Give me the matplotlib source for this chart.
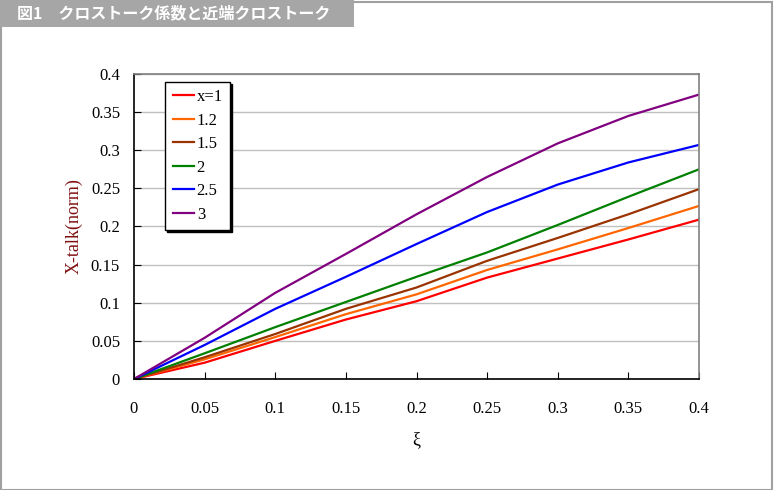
import matplotlib.pyplot as plt
from matplotlib.patches import Rectangle

# values
xi = [0, 0.05, 0.1, 0.15, 0.2, 0.25, 0.3, 0.35, 0.4]
labels = ["x=1", "1.2", "1.5", "2", "2.5", "3"]
colors = ["#ff0000", "#ff6600", "#993300", "#008000", "#0000ff", "#800080"]
xtalk_1 = [0, 0.0214, 0.050, 0.078, 0.102, 0.133, 0.158, 0.183, 0.209]
xtalk_12 = [0, 0.0258, 0.055, 0.085, 0.111, 0.143, 0.170, 0.198, 0.227]
xtalk_15 = [0, 0.0285, 0.059, 0.092, 0.120, 0.155, 0.185, 0.216, 0.249]
xtalk_2 = [0, 0.0337, 0.068, 0.101, 0.134, 0.166, 0.202, 0.239, 0.275]
xtalk_25 = [0, 0.0446, 0.092, 0.134, 0.177, 0.219, 0.255, 0.284, 0.307]
xtalk_3 = [0, 0.054, 0.113, 0.164, 0.216, 0.265, 0.309, 0.345, 0.373]
series = [xtalk_1, xtalk_12, xtalk_15, xtalk_2, xtalk_25, xtalk_3]
xticks = [0, 0.05, 0.1, 0.15, 0.2, 0.25, 0.3, 0.35, 0.4]
yticks = [0, 0.05, 0.1, 0.15, 0.2, 0.25, 0.3, 0.35, 0.4]

W, H = 774, 490
fig = plt.figure(figsize=(W / 100, H / 100), dpi=100)

# outer border and title banner
fig.patches.append(Rectangle((0.5 / W, 0.5 / H), 1 - 2.5 / W, 1 - 2.5 / H, transform=fig.transFigure,
                             fill=False, edgecolor="#a0a0a0", linewidth=1.5))
fig.patches.append(Rectangle((0, 1 - 27 / H), 354 / W, 27 / H, transform=fig.transFigure,
                             facecolor="#a6a6a6", edgecolor="none"))
fig.text(17 / W, 1 - 13.5 / H, "図1　クロストーク係数と近端クロストーク", color="white",
         fontsize=11.5, fontweight="bold", va="center", ha="left",
         family=["Noto Sans CJK JP", "DejaVu Sans"])

ax = fig.add_axes([134 / W, 111 / H, 565 / W, 305 / H])
for s, lab, c in zip(series, labels, colors):
    ax.plot(xi, s, color=c, linewidth=1.6, label=lab)

ax.set_xlim(0, 0.4)
ax.set_ylim(0, 0.4)
ax.set_xticks(xticks)
ax.set_yticks(yticks)
ax.set_xticklabels([f"{v:g}" for v in xticks])
ax.set_yticklabels([f"{v:g}" for v in yticks])
ax.grid(axis="y", color="#c0c0c0", linewidth=1)
ax.set_axisbelow(True)
ax.tick_params(direction="in", length=5, color="black", labelsize=12)
ax.tick_params(axis="x", pad=16)
ax.tick_params(axis="y", pad=10)
for t in ax.get_xticklabels() + ax.get_yticklabels():
    t.set_family("Liberation Serif")
ax.spines["left"].set_color("black")
ax.spines["bottom"].set_color("black")
ax.spines["top"].set_color("#808080")
ax.spines["right"].set_color("#808080")
for sp in ax.spines.values():
    sp.set_linewidth(1.2)

ax.set_xlabel("ξ", family="Liberation Serif", fontsize=13, labelpad=10)
ax.set_ylabel("X-talk(norm)", family="Liberation Serif", fontsize=13, color="#7f1010", labelpad=6)

leg = ax.legend(loc="upper left", bbox_to_anchor=(0.055, 0.975), frameon=True, fancybox=False,
                edgecolor="black", framealpha=1, borderaxespad=0, handlelength=1.3,
                handletextpad=0.15, labelspacing=0.45, borderpad=0.45,
                prop={"family": "Liberation Serif", "size": 12},
                shadow={"color": "black", "alpha": 1, "ox": 1.5, "oy": -1.5})
leg.get_frame().set_linewidth(1)

fig.savefig("out.png", dpi=100)
